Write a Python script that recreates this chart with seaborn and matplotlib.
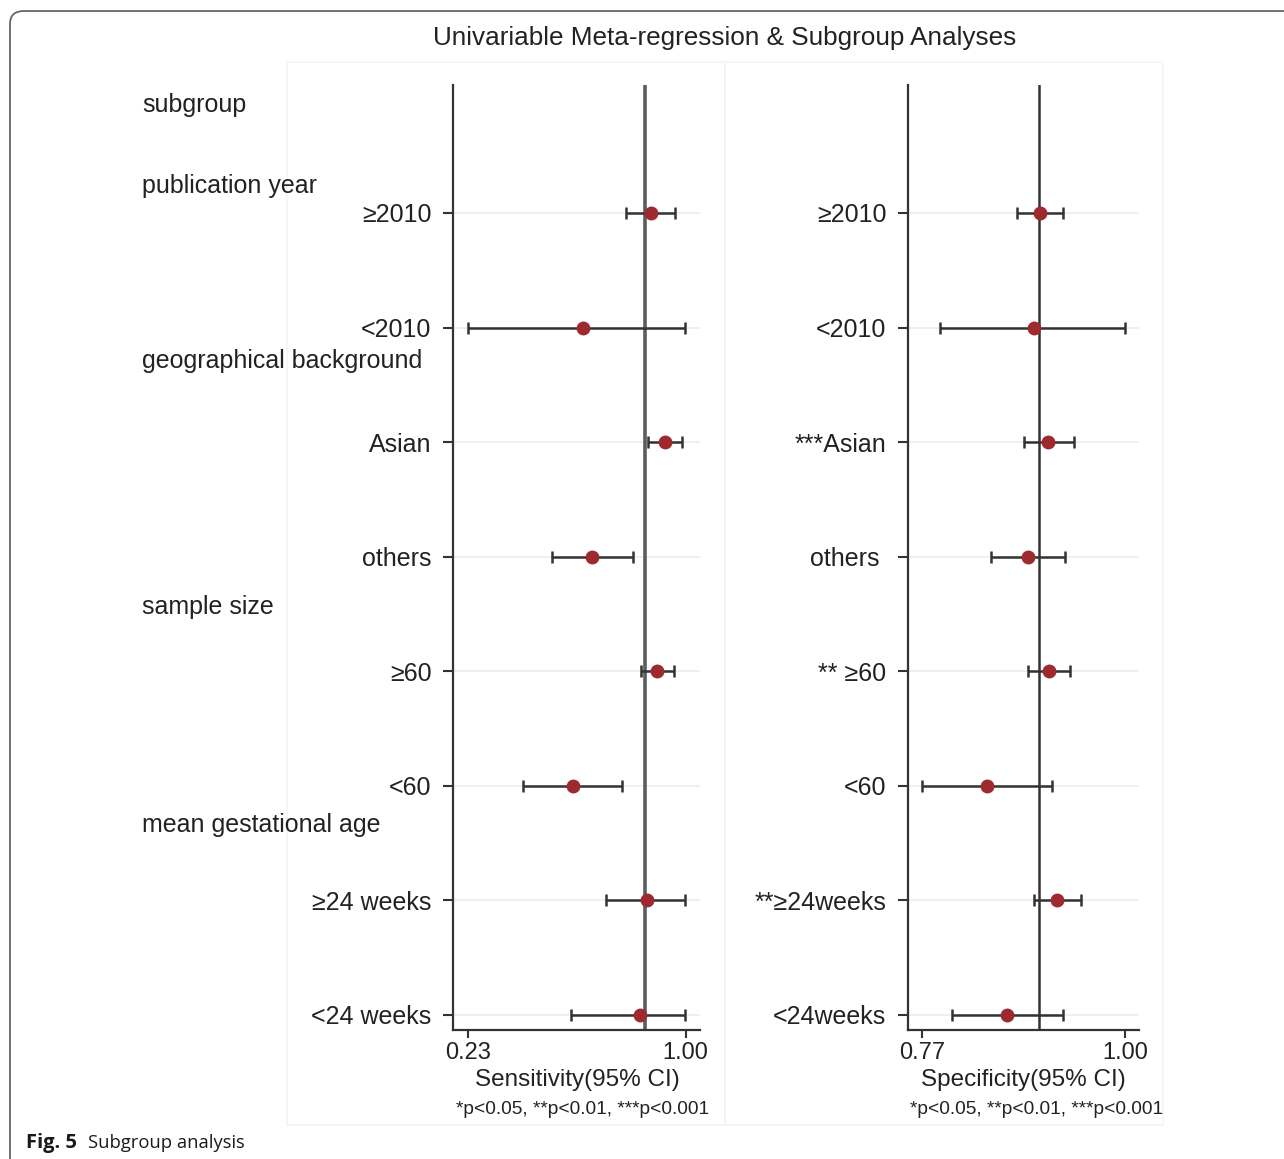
import matplotlib
matplotlib.use("Agg")
import matplotlib.pyplot as plt
from matplotlib.patches import FancyBboxPatch, Rectangle
import numpy as np
import pandas as pd
import seaborn as sns

# ---- data -------------------------------------------------------------
sens_labels = ["≥2010", "<2010", "Asian", "others", "≥60", "<60",
               "≥24 weeks", "<24 weeks"]
spec_labels = ["≥2010", "<2010", "***Asian", "others ", "** ≥60", "<60",
               "**≥24weeks", "<24weeks"]

sens_est = [0.876, 0.637, 0.928, 0.670, 0.900, 0.600, 0.863, 0.840]
sens_lo = [0.788, 0.231, 0.867, 0.526, 0.841, 0.425, 0.717, 0.594]
sens_hi = [0.963, 0.999, 0.987, 0.814, 0.958, 0.776, 0.998, 0.998]
sens_ref = 0.856

spec_est = [0.904, 0.897, 0.913, 0.890, 0.914, 0.843, 0.923, 0.866]
spec_lo = [0.877, 0.790, 0.885, 0.848, 0.890, 0.770, 0.897, 0.804]
spec_hi = [0.930, 1.000, 0.942, 0.932, 0.938, 0.917, 0.950, 0.930]
spec_ref = 0.902

group_headers = ["subgroup", "publication year", "geographical background",
                 "sample size", "mean gestational age"]
header_rows = [-0.94, -0.236, 1.29, 3.44, 5.34]

sens_ticks = [0.23, 1.00]
spec_ticks = [0.77, 1.00]

title = "Univariable Meta-regression & Subgroup Analyses"
note = "*p<0.05, **p<0.01, ***p<0.001"

# ---- style ------------------------------------------------------------
sns.set_theme(style="white")
plt.rcParams["font.family"] = ["Liberation Sans", "DejaVu Sans"]

W, H = 1284, 1159
fig = plt.figure(figsize=(W / 100, H / 100), dpi=100)
fig.patch.set_facecolor("white")


def fx(x):
    return x / W


def fy(y):
    return 1 - y / H


INK = "#333333"
POINT = "#9e2a30"
ROWLINE = "#e4eff1"

# light panel frames and rounded outer border
for x0 in (287, 725):
    fig.patches.append(Rectangle((fx(x0), fy(1125)), fx(438), 1063 / H,
                                 transform=fig.transFigure, fill=False,
                                 edgecolor="#f0f6f6", linewidth=1.2))
fig.patches.append(FancyBboxPatch((fx(10), fy(1200)), fx(1320), 1189 / H,
                                  boxstyle="round,pad=0,rounding_size=0.011",
                                  transform=fig.transFigure, fill=False,
                                  edgecolor="#666666", linewidth=1.3))

rows = np.arange(len(sens_labels))


def panel(rect, est, lo, hi, ref, labels, ticks, xlim, ref_style):
    ax = fig.add_axes(rect)
    df = pd.DataFrame({"row": rows, "est": est, "lo": lo, "hi": hi,
                       "label": labels})
    for r in rows:
        ax.axhline(r, color=ROWLINE, lw=1.2, zorder=0)
    ax.axvline(ref, zorder=1, **ref_style)
    ax.errorbar(df["est"], df["row"],
                xerr=[df["est"] - df["lo"], df["hi"] - df["est"]],
                fmt="none", ecolor=INK, elinewidth=1.8, capsize=4.2,
                capthick=1.8, zorder=2)
    sns.scatterplot(data=df, x="est", y="row", ax=ax, color=POINT, s=100,
                    edgecolor=POINT, linewidth=0, zorder=3, legend=False)
    ax.set_xlim(*xlim)
    ax.set_ylim(7.131, -1.117)
    ax.set_yticks(rows)
    ax.set_yticklabels(labels, fontsize=18)
    ax.set_xticks(ticks)
    ax.set_xticklabels([f"{t:.2f}" for t in ticks], fontsize=17)
    ax.set_xlabel("")
    ax.set_ylabel("")
    for side in ("top", "right"):
        ax.spines[side].set_visible(False)
    for side in ("left", "bottom"):
        ax.spines[side].set_color(INK)
        ax.spines[side].set_linewidth(1.6)
    ax.tick_params(axis="y", length=7.5, width=1.5, color=INK, pad=8,
                   colors="#222222", left=True)
    ax.tick_params(axis="x", length=5.5, width=1.5, color=INK, pad=3,
                   colors="#222222", bottom=True)
    ax.set_facecolor("none")
    return ax


ax1 = panel([fx(453), fy(1030), fx(247), 945 / H], sens_est, sens_lo, sens_hi,
            sens_ref, sens_labels, sens_ticks, (0.177, 1.051),
            dict(color="#5c5c5c", lw=2.6))
ax2 = panel([fx(908), fy(1030), fx(231), 945 / H], spec_est, spec_lo, spec_hi,
            spec_ref, spec_labels, spec_ticks, (0.7538, 1.0159),
            dict(color="#333333", lw=1.8))

# titles and annotations
fig.text(fx(725), fy(38), title, ha="center", va="center", fontsize=18.8,
         color="#222222")
for txt, r in zip(group_headers, header_rows):
    ypix = 213 + 114.6 * r
    fig.text(fx(142), fy(ypix), txt, ha="left", va="center", fontsize=18,
             color="#222222")

fig.text(fx(577), fy(1080), "Sensitivity(95% CI)", ha="center", va="center",
         fontsize=17.5, color="#222222")
fig.text(fx(1023), fy(1080), "Specificity(95% CI)", ha="center", va="center",
         fontsize=17.5, color="#222222")
fig.text(fx(583), fy(1110), note, ha="center", va="center", fontsize=13.8,
         color="#222222")
fig.text(fx(1037), fy(1110), note, ha="center", va="center", fontsize=13.8,
         color="#222222")

# caption
fig.text(fx(26), fy(1143), "Fig. 5", ha="left", va="center", fontsize=14.5,
         fontweight="bold", family=["Open Sans", "DejaVu Sans"],
         color="#1a1a1a")
fig.text(fx(88), fy(1143), "Subgroup analysis", ha="left", va="center",
         fontsize=13.2, family=["Open Sans", "DejaVu Sans"], color="#1a1a1a")

fig.savefig("out.png", dpi=100)
